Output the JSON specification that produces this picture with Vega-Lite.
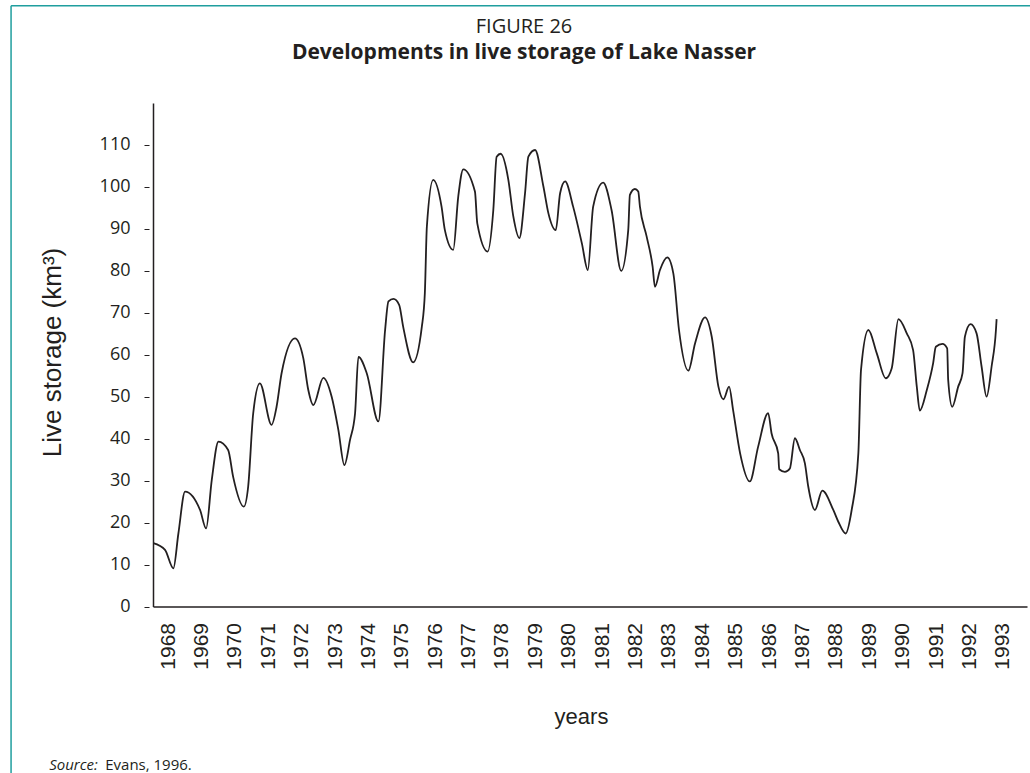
{
  "$schema": "https://vega.github.io/schema/vega-lite/v6.json",
  "width": 874,
  "height": 503.5,
  "autosize": {"type": "none"},
  "padding": {"left": 153, "top": 103, "right": 3, "bottom": 166.5},
  "background": "white",
  "title": {
    "text": "FIGURE 26",
    "subtitle": "Developments in live storage of Lake Nasser",
    "anchor": "middle",
    "frame": "group",
    "dx": -66,
    "font": "Open Sans",
    "fontSize": 20,
    "fontWeight": "normal",
    "color": "#231f20",
    "subtitleFont": "Open Sans",
    "subtitleFontSize": 21,
    "subtitleFontWeight": "bold",
    "subtitleColor": "#231f20",
    "subtitlePadding": 5,
    "offset": -58
  },
  "config": {
    "view": {"stroke": null},
    "axis": {"labelOverlap": false, "labelBound": false, "labelFlush": false}
  },
  "data": {
    "values": [
      {"year": 1968.06, "storage": 15.1},
      {"year": 1968.41, "storage": 13.5},
      {"year": 1968.66, "storage": 9.1},
      {"year": 1968.81, "storage": 17.4},
      {"year": 1969.01, "storage": 27.4},
      {"year": 1969.46, "storage": 23.0},
      {"year": 1969.64, "storage": 18.6},
      {"year": 1969.81, "storage": 30.2},
      {"year": 1970.01, "storage": 39.3},
      {"year": 1970.30, "storage": 37.3},
      {"year": 1970.45, "storage": 30.9},
      {"year": 1970.77, "storage": 23.8},
      {"year": 1970.90, "storage": 28.6},
      {"year": 1971.05, "storage": 46.0},
      {"year": 1971.25, "storage": 53.2},
      {"year": 1971.60, "storage": 43.3},
      {"year": 1971.75, "storage": 47.6},
      {"year": 1971.90, "storage": 55.6},
      {"year": 1972.30, "storage": 63.9},
      {"year": 1972.55, "storage": 59.2},
      {"year": 1972.70, "storage": 51.6},
      {"year": 1972.85, "storage": 48.0},
      {"year": 1973.15, "storage": 54.5},
      {"year": 1973.40, "storage": 50.0},
      {"year": 1973.60, "storage": 42.1},
      {"year": 1973.78, "storage": 33.7},
      {"year": 1973.95, "storage": 39.7},
      {"year": 1974.10, "storage": 46.0},
      {"year": 1974.20, "storage": 59.5},
      {"year": 1974.45, "storage": 55.6},
      {"year": 1974.80, "storage": 44.1},
      {"year": 1975.00, "storage": 65.9},
      {"year": 1975.10, "storage": 72.7},
      {"year": 1975.25, "storage": 73.3},
      {"year": 1975.42, "storage": 71.9},
      {"year": 1975.54, "storage": 66.7},
      {"year": 1975.84, "storage": 58.2},
      {"year": 1976.10, "storage": 66.7},
      {"year": 1976.19, "storage": 74.7},
      {"year": 1976.25, "storage": 90.5},
      {"year": 1976.44, "storage": 101.7},
      {"year": 1976.69, "storage": 95.3},
      {"year": 1976.79, "storage": 89.7},
      {"year": 1977.04, "storage": 85.0},
      {"year": 1977.19, "storage": 97.7},
      {"year": 1977.34, "storage": 104.2},
      {"year": 1977.69, "storage": 98.9},
      {"year": 1977.76, "storage": 91.3},
      {"year": 1978.07, "storage": 84.6},
      {"year": 1978.24, "storage": 94.5},
      {"year": 1978.34, "storage": 107.2},
      {"year": 1978.46, "storage": 107.9},
      {"year": 1978.69, "storage": 101.7},
      {"year": 1978.84, "storage": 92.9},
      {"year": 1979.02, "storage": 87.8},
      {"year": 1979.19, "storage": 98.5},
      {"year": 1979.29, "storage": 107.2},
      {"year": 1979.49, "storage": 108.8},
      {"year": 1979.74, "storage": 100.1},
      {"year": 1979.89, "storage": 93.7},
      {"year": 1980.11, "storage": 89.7},
      {"year": 1980.24, "storage": 98.5},
      {"year": 1980.39, "storage": 101.3},
      {"year": 1980.63, "storage": 95.3},
      {"year": 1980.89, "storage": 86.6},
      {"year": 1981.07, "storage": 80.2},
      {"year": 1981.23, "storage": 95.3},
      {"year": 1981.53, "storage": 101.0},
      {"year": 1981.78, "storage": 94.5},
      {"year": 1982.07, "storage": 80.0},
      {"year": 1982.28, "storage": 89.7},
      {"year": 1982.33, "storage": 98.1},
      {"year": 1982.48, "storage": 99.5},
      {"year": 1982.58, "storage": 98.9},
      {"year": 1982.63, "storage": 95.3},
      {"year": 1982.83, "storage": 88.2},
      {"year": 1983.01, "storage": 81.0},
      {"year": 1983.08, "storage": 76.2},
      {"year": 1983.23, "storage": 80.2},
      {"year": 1983.45, "storage": 83.2},
      {"year": 1983.63, "storage": 79.4},
      {"year": 1983.80, "storage": 65.9},
      {"year": 1984.08, "storage": 56.2},
      {"year": 1984.28, "storage": 62.7},
      {"year": 1984.58, "storage": 68.9},
      {"year": 1984.78, "storage": 64.3},
      {"year": 1984.98, "storage": 52.4},
      {"year": 1985.13, "storage": 49.4},
      {"year": 1985.30, "storage": 52.4},
      {"year": 1985.42, "storage": 46.8},
      {"year": 1985.63, "storage": 36.5},
      {"year": 1985.92, "storage": 29.8},
      {"year": 1986.17, "storage": 38.1},
      {"year": 1986.47, "storage": 46.1},
      {"year": 1986.57, "storage": 41.3},
      {"year": 1986.77, "storage": 36.5},
      {"year": 1986.80, "storage": 32.7},
      {"year": 1986.97, "storage": 32.1},
      {"year": 1987.12, "storage": 32.9},
      {"year": 1987.27, "storage": 40.1},
      {"year": 1987.42, "storage": 37.3},
      {"year": 1987.57, "storage": 34.1},
      {"year": 1987.67, "storage": 28.6},
      {"year": 1987.87, "storage": 23.0},
      {"year": 1988.09, "storage": 27.6},
      {"year": 1988.42, "storage": 23.0},
      {"year": 1988.57, "storage": 20.2},
      {"year": 1988.79, "storage": 17.4},
      {"year": 1988.97, "storage": 23.0},
      {"year": 1989.17, "storage": 36.5},
      {"year": 1989.25, "storage": 56.4},
      {"year": 1989.47, "storage": 65.9},
      {"year": 1989.72, "storage": 60.4},
      {"year": 1989.99, "storage": 54.4},
      {"year": 1990.17, "storage": 56.8},
      {"year": 1990.37, "storage": 68.5},
      {"year": 1990.62, "storage": 65.1},
      {"year": 1990.81, "storage": 61.1},
      {"year": 1990.92, "storage": 52.4},
      {"year": 1991.01, "storage": 46.7},
      {"year": 1991.22, "storage": 51.6},
      {"year": 1991.41, "storage": 58.0},
      {"year": 1991.49, "storage": 61.9},
      {"year": 1991.69, "storage": 62.6},
      {"year": 1991.83, "storage": 61.5},
      {"year": 1991.86, "storage": 54.0},
      {"year": 1991.98, "storage": 47.6},
      {"year": 1992.16, "storage": 52.4},
      {"year": 1992.29, "storage": 55.6},
      {"year": 1992.36, "storage": 64.3},
      {"year": 1992.53, "storage": 67.3},
      {"year": 1992.71, "storage": 65.1},
      {"year": 1992.86, "storage": 57.2},
      {"year": 1993.01, "storage": 50.0},
      {"year": 1993.16, "storage": 57.2},
      {"year": 1993.29, "storage": 65.9},
      {"year": 1993.31, "storage": 68.5}
    ]
  },
  "layer": [
    {
      "mark": {"type": "line", "color": "#231f20", "strokeWidth": 1.8, "interpolate": "monotone"},
      "encoding": {
        "x": {
          "field": "year",
          "type": "quantitative",
          "scale": {"domain": [1968.05, 1994.22]},
          "axis": {
            "values": [1968.5, 1969.5, 1970.5, 1971.5, 1972.5, 1973.5, 1974.5, 1975.5, 1976.5, 1977.5, 1978.5, 1979.5, 1980.5, 1981.5, 1982.5, 1983.5, 1984.5, 1985.5, 1986.5, 1987.5, 1988.5, 1989.5, 1990.5, 1991.5, 1992.5, 1993.5],
            "tickCount": 40,
            "labelExpr": "'' + floor(datum.value)",
            "labelAngle": -90,
            "labelAlign": "right",
            "labelBaseline": "middle",
            "labelFont": "Liberation Sans",
            "labelFontSize": 21,
            "labelColor": "#231f20",
            "labelPadding": 16,
            "labelOverlap": false,
            "labelFlush": false,
            "ticks": false,
            "tickSize": 0,
            "grid": false,
            "domain": true,
            "domainColor": "#231f20",
            "domainWidth": 1.5,
            "title": "years",
            "titleFont": "Liberation Sans",
            "titleFontSize": 22,
            "titleFontWeight": "normal",
            "titleColor": "#231f20",
            "titleBaseline": "alphabetic",
            "titleX": 428,
            "titleY": 117
          }
        },
        "y": {
          "field": "storage",
          "type": "quantitative",
          "scale": {"domain": [0, 120]},
          "axis": {
            "values": [0, 10, 20, 30, 40, 50, 60, 70, 80, 90, 100, 110],
            "tickCount": 20,
            "labelFont": "Open Sans",
            "labelFontSize": 18,
            "labelColor": "#231f20",
            "labelPadding": 14,
            "ticks": true,
            "tickSize": 9,
            "tickDash": [0, 4, 5, 40],
            "tickColor": "#231f20",
            "tickWidth": 1,
            "grid": false,
            "domain": true,
            "domainColor": "#231f20",
            "domainWidth": 1.5,
            "title": "Live storage (km³)",
            "titleFont": "Liberation Sans",
            "titleFontSize": 26,
            "titleFontWeight": "normal",
            "titleColor": "#231f20",
            "titleAngle": -90,
            "titleBaseline": "alphabetic",
            "titleAlign": "center",
            "titleX": -93,
            "titleY": 249
          }
        }
      }
    },
    {
      "data": {"values": [{}]},
      "mark": {"type": "rule", "color": "#1f9e9e", "strokeWidth": 1.5},
      "encoding": {
        "x": {"datum": 1963.80, "type": "quantitative", "scale": {"domain": [1968.05, 1994.22]}},
        "y": {"datum": 143.15, "type": "quantitative", "scale": {"domain": [0, 120]}},
        "y2": {"datum": -40}
      }
    },
    {
      "data": {"values": [{}]},
      "mark": {"type": "rule", "color": "#1f9e9e", "strokeWidth": 1.5},
      "encoding": {
        "x": {"datum": 1963.80, "type": "quantitative", "scale": {"domain": [1968.05, 1994.22]}},
        "x2": {"datum": 1994.4},
        "y": {"datum": 143.15, "type": "quantitative", "scale": {"domain": [0, 120]}}
      }
    },
    {
      "data": {"values": [{}]},
      "mark": {"type": "text", "text": "Source:", "font": "Open Sans", "fontSize": 15, "fontStyle": "italic", "color": "#231f20", "align": "left", "baseline": "alphabetic"},
      "encoding": {
        "x": {"datum": 1964.94, "type": "quantitative", "scale": {"domain": [1968.05, 1994.22]}},
        "y": {"datum": -38.98, "type": "quantitative", "scale": {"domain": [0, 120]}}
      }
    },
    {
      "data": {"values": [{}]},
      "mark": {"type": "text", "text": "Evans, 1996.", "font": "Open Sans", "fontSize": 15, "color": "#231f20", "align": "left", "baseline": "alphabetic"},
      "encoding": {
        "x": {"datum": 1966.62, "type": "quantitative", "scale": {"domain": [1968.05, 1994.22]}},
        "y": {"datum": -38.98, "type": "quantitative", "scale": {"domain": [0, 120]}}
      }
    }
  ]
}
